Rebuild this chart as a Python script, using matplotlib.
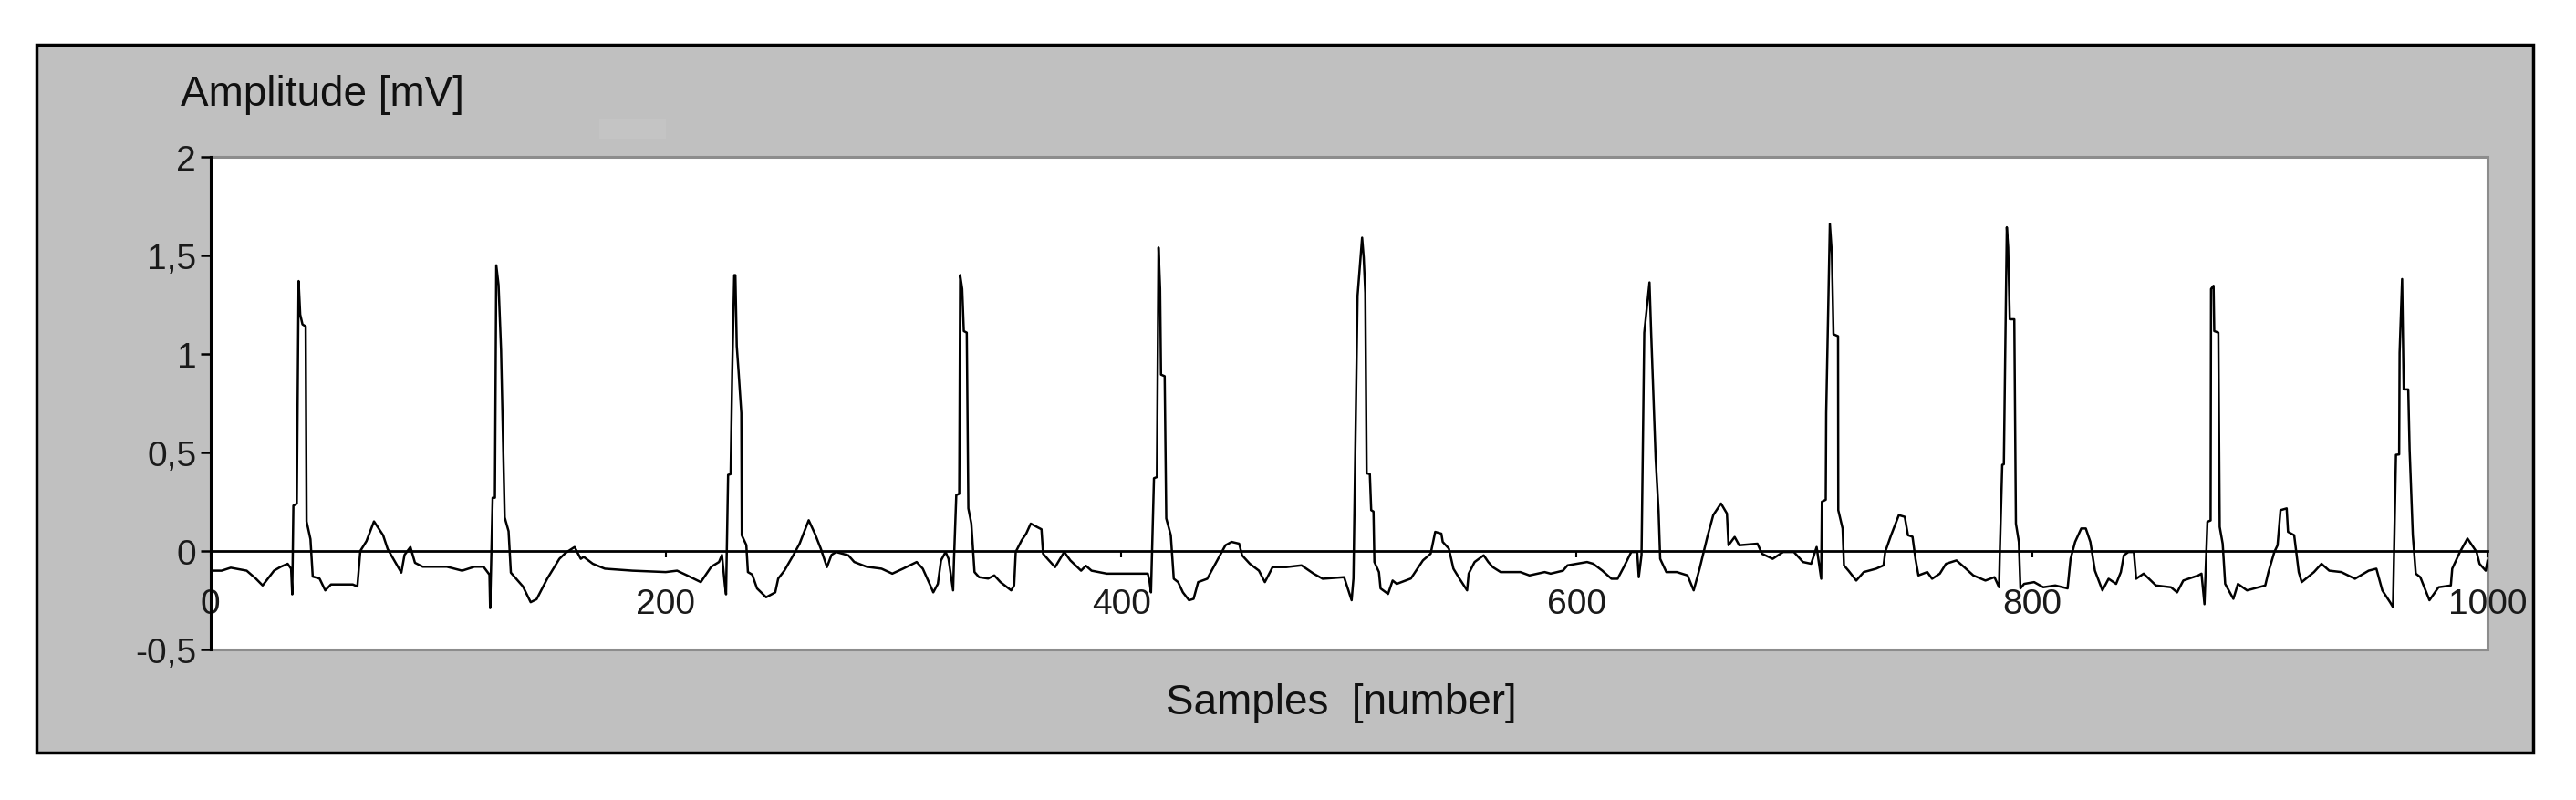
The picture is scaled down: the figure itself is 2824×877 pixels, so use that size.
#!/usr/bin/env python3
"""ECG trace over 1000 samples, drawn in the old grey Excel chart style.

Writes out.png (2824x878).
"""

import matplotlib.patches as patches
import matplotlib.pyplot as plt

# trace vertices, sample index -> amplitude [mV]
SAMPLES = [
    0, 5, 9, 16, 20, 23, 28, 31, 34, 35.5, 36, 36.5, 38, 38.8, 39.5, 40.5, 41.9,
    42.3, 44, 45, 48, 50.5, 53, 62.6, 64.6, 65.9, 68.6, 71.9, 75.9, 77.9, 83.9,
    85.3, 87.9, 89.9, 93.3, 103.9, 110.6, 116, 120, 122.6, 122.9, 124, 125,
    125.6, 126.6, 127.7, 129.3, 131, 132, 137.3, 140.7, 143.3, 148, 153.3, 156,
    160, 162.7, 164, 168, 173.3, 185.4, 200, 205, 209.4, 215.4, 220, 223.4,
    224.7, 226, 226.5, 227.4, 228.5, 229.2, 230.1, 230.6, 231.2, 232, 233.2,
    233.4, 235.4, 236.1, 238, 240.1, 244.1, 248.1, 249.4, 252.1, 256.1, 258.8,
    262.8, 265.5, 268.1, 270.8, 272.8, 274.8, 280.2, 282.8, 288.2, 294.8, 299.5,
    304.2, 310.2, 312.9, 316.2, 317.5, 319.5, 320.9, 322.9, 324.2, 326.2, 326.6,
    327.6, 328.9, 329.3, 330.2, 330.9, 332.2, 332.9, 334.2, 335.6, 337.6, 341.6,
    344.3, 347, 351.7, 353, 353.7, 356.3, 358.3, 360.3, 363, 365, 365.7, 368.3,
    371, 375, 377.7, 382.4, 384.5, 387, 393.7, 401, 411.7, 412.4, 413.1, 414.4,
    415.7, 416.4, 417.1, 417.5, 419.1, 419.8, 421.8, 423.1, 425, 427.1, 429.8,
    431.8, 433.8, 437.8, 441.8, 445.8, 448.5, 451.8, 453.1, 456.5, 460.5, 463.1,
    466.5, 472.5, 479.2, 484.5, 488.5, 497.9, 501.2, 502, 503.8, 505.8, 506.5,
    507.2, 507.8, 509.2, 509.8, 510.8, 511.2, 513.2, 513.9, 517.2, 519.2, 521,
    527.2, 532.5, 535.9, 537.9, 540.6, 541.2, 543.9, 545.9, 548.6, 551.9, 552.6,
    555.2, 559.2, 561.2, 563.2, 566.6, 575.3, 579.3, 586, 588.6, 594, 596, 600,
    604.6, 607.3, 611.3, 615.3, 618, 620.7, 624, 626.6, 627.3, 628.5, 629.7,
    632, 632.7, 634.7, 636, 636.7, 639.4, 644, 648.7, 651.4, 654, 657.4, 660,
    663.4, 666, 666.7, 669.4, 671.4, 679.4, 681.4, 686.1, 690.7, 695.4, 699.4,
    703, 705.4, 707.4, 707.7, 709.4, 709.6, 711.2, 712.1, 712.8, 714.8, 714.9,
    716.8, 717.4, 719.4, 722.8, 726.1, 731.5, 734.8, 735.5, 738.1, 741.5, 744.1,
    745.5, 747.5, 748.8, 750.1, 754, 756.1, 759.5, 762.2, 766.8, 770.2, 774.2,
    779.5, 783.5, 785.5, 785.9, 786.9, 787.6, 788.9, 789.5, 790.2, 792.2, 792.9,
    794.2, 794.9, 796.5, 800.9, 804.9, 810.2, 815.6, 816.9, 818.9, 821.6, 823.6,
    825.6, 827.6, 830.9, 833.6, 836.9, 839, 840.3, 842.3, 844.7, 845.7, 849,
    854.4, 861, 863.7, 866.4, 873, 874.4, 875.7, 877, 878.4, 878.6, 879.7, 880,
    881.8, 882.4, 883.7, 884.8, 888.4, 890.4, 894.4, 902.4, 903.8, 906.4, 907.8,
    909.1, 911.8, 912.4, 915.1, 917.1, 918.4, 923.8, 927.1, 930.5, 935.8, 941.8,
    947.8, 951.2, 953.8, 957.2, 958.5, 959.8, 961.2, 961.4, 962.5, 963.2, 965.2,
    965.8, 967.2, 968.5, 970.5, 974.5, 978.5, 983.9, 984.5, 987.9, 991.2, 993.2,
    995.2, 996.5, 999.2, 1000,
]
AMPLITUDE = [
    -0.10, -0.10, -0.085, -0.10, -0.14, -0.175, -0.10, -0.08, -0.065, -0.09,
    -0.22, 0.23, 0.24, 1.37, 1.20, 1.15, 1.14, 0.15, 0.06, -0.13, -0.14, -0.20,
    -0.17, -0.17, -0.18, 0.0, 0.05, 0.15, 0.08, 0.01, -0.11, -0.02, 0.02, -0.06,
    -0.08, -0.08, -0.10, -0.08, -0.08, -0.12, -0.29, 0.27, 0.27, 1.45, 1.35,
    1.02, 0.17, 0.10, -0.11, -0.18, -0.26, -0.245, -0.14, -0.04, -0.01, 0.02,
    -0.04, -0.03, -0.065, -0.09, -0.10, -0.107, -0.10, -0.124, -0.158, -0.08,
    -0.056, -0.02, -0.175, -0.22, 0.386, 0.39, 0.904, 1.40, 1.40, 1.04, 0.91,
    0.70, 0.08, 0.03, -0.107, -0.12, -0.19, -0.235, -0.21, -0.14, -0.10, -0.02,
    0.037, 0.156, 0.088, 0.012, -0.082, -0.02, -0.005, -0.022, -0.056, -0.08,
    -0.09, -0.115, -0.09, -0.056, -0.09, -0.175, -0.21, -0.167, -0.048, -0.005,
    -0.04, -0.20, -0.04, 0.284, 0.29, 1.40, 1.33, 1.116, 1.108, 0.216, 0.14,
    -0.107, -0.133, -0.14, -0.124, -0.158, -0.20, -0.175, -0.005, 0.054, 0.088,
    0.139, 0.122, 0.11, -0.014, -0.048, -0.082, -0.005, -0.048, -0.10, -0.075,
    -0.10, -0.115, -0.115, -0.115, -0.15, -0.21, 0.369, 0.375, 1.54, 1.33,
    0.895, 0.887, 0.165, 0.08, -0.141, -0.158, -0.21, -0.25, -0.243, -0.158,
    -0.141, -0.056, 0.029, 0.046, 0.037, -0.022, -0.065, -0.10, -0.158, -0.082,
    -0.082, -0.073, -0.115, -0.141, -0.133, -0.25, -0.14, 1.295, 1.59, 1.49,
    1.31, 0.394, 0.39, 0.207, 0.20, -0.056, -0.107, -0.19, -0.218, -0.15,
    -0.167, -0.14, -0.048, -0.014, 0.097, 0.088, 0.046, 0.012, -0.09, -0.141,
    -0.20, -0.115, -0.056, -0.022, -0.056, -0.082, -0.107, -0.107, -0.124,
    -0.107, -0.115, -0.10, -0.073, -0.065, -0.056, -0.065, -0.10, -0.141,
    -0.141, -0.082, -0.005, -0.005, -0.133, -0.02, 1.108, 1.363, 1.116, 0.47,
    0.20, -0.04, -0.107, -0.107, -0.124, -0.20, -0.09, 0.071, 0.182, 0.241,
    0.19, 0.029, 0.071, 0.029, 0.037, -0.014, -0.04, -0.005, -0.005, -0.056,
    -0.065, 0.02, -0.141, 0.25, 0.26, 0.70, 1.66, 1.507, 1.10, 1.09, 0.207,
    0.114, -0.073, -0.10, -0.15, -0.107, -0.09, -0.073, -0.005, 0.08, 0.182,
    0.173, 0.08, 0.072, -0.04, -0.124, -0.107, -0.141, -0.115, -0.065, -0.048,
    -0.082, -0.124, -0.15, -0.133, -0.184, 0.02, 0.437, 0.44, 1.643, 1.54,
    1.176, 1.176, 0.139, 0.046, -0.19, -0.167, -0.158, -0.184, -0.175, -0.19,
    -0.04, 0.046, 0.114, 0.114, 0.046, -0.10, -0.20, -0.141, -0.167, -0.107,
    -0.022, -0.005, -0.005, -0.141, -0.115, -0.175, -0.184, -0.21, -0.15,
    -0.124, -0.115, -0.27, 0.148, 0.155, 1.33, 1.346, 1.116, 1.108, 0.122,
    0.037, -0.167, -0.243, -0.167, -0.20, -0.175, -0.107, -0.005, 0.029, 0.207,
    0.216, 0.097, 0.08, -0.107, -0.158, -0.107, -0.065, -0.10, -0.107, -0.141,
    -0.10, -0.09, -0.20, -0.26, -0.285, 0.488, 0.49, 1.006, 1.38, 0.82, 0.82,
    0.513, 0.08, -0.115, -0.133, -0.25, -0.184, -0.175, -0.09, -0.005, 0.063,
    0.029, -0.005, -0.065, -0.10, -0.05,
]

X_TICKS = [0, 200, 400, 600, 800, 1000]
Y_TICKS = [-0.5, 0, 0.5, 1, 1.5, 2]
Y_TICK_LABELS = ["-0,5", "0", "0,5", "1", "1,5", "2"]

W, H = 2824, 878
PANEL_GREY = "#c0c0c0"


def fx(px):
    return px / W


def fy(px):
    # pixel row (from top) -> figure fraction (from bottom)
    return 1 - px / H


def main():
    plt.rcParams["font.family"] = ["Liberation Sans", "DejaVu Sans"]

    fig = plt.figure(figsize=(W / 100, H / 100), dpi=100)
    fig.patch.set_facecolor("white")

    # grey chart panel with black frame
    fig.add_artist(patches.Rectangle(
        (fx(40), fy(826)), fx(2777 - 40), (826 - 50) / H,
        transform=fig.transFigure, facecolor=PANEL_GREY,
        edgecolor="black", linewidth=2.5, zorder=0,
    ))
    # faint leftover title box
    fig.add_artist(patches.Rectangle(
        (fx(657), fy(153)), fx(73), 21 / H,
        transform=fig.transFigure, facecolor="#c4c4c4",
        edgecolor="none", zorder=0.5,
    ))

    ax = fig.add_axes([fx(230.5), fy(713), fx(2727 - 230.5), (713 - 173) / H])
    ax.set_facecolor("white")

    ax.plot(SAMPLES, AMPLITUDE, color="black", linewidth=1.8)

    ax.set_xlim(0, 1000)
    ax.set_ylim(-0.5, 2)

    # plot-area border
    ax.add_patch(patches.Rectangle(
        (0, 0), 1, 1, transform=ax.transAxes, facecolor="none",
        edgecolor="#8c8c8c", linewidth=2.2, clip_on=False, zorder=1,
    ))

    ax.spines["top"].set_visible(False)
    ax.spines["right"].set_visible(False)
    ax.spines["left"].set_linewidth(2.2)
    ax.spines["left"].set_zorder(3)
    ax.spines["bottom"].set_position(("data", 0))
    ax.spines["bottom"].set_linewidth(2.0)

    ax.set_yticks(Y_TICKS, Y_TICK_LABELS)
    ax.set_xticks(X_TICKS, [str(t) for t in X_TICKS])
    ax.tick_params(axis="y", direction="out", length=8, width=1.8, pad=3,
                   labelsize=28, labelcolor="#1a1a1a")
    ax.tick_params(axis="x", direction="out", length=5, width=1.5, pad=24,
                   labelsize=28, labelcolor="#1a1a1a")

    fig.text(fx(198), fy(104), "Amplitude [mV]", fontsize=33,
             ha="left", va="center", color="#111111")
    fig.text(fx(1470), fy(771), "Samples  [number]", fontsize=33,
             ha="center", va="center", color="#111111")

    fig.savefig("out.png", dpi=100, facecolor=fig.get_facecolor())


if __name__ == "__main__":
    main()
